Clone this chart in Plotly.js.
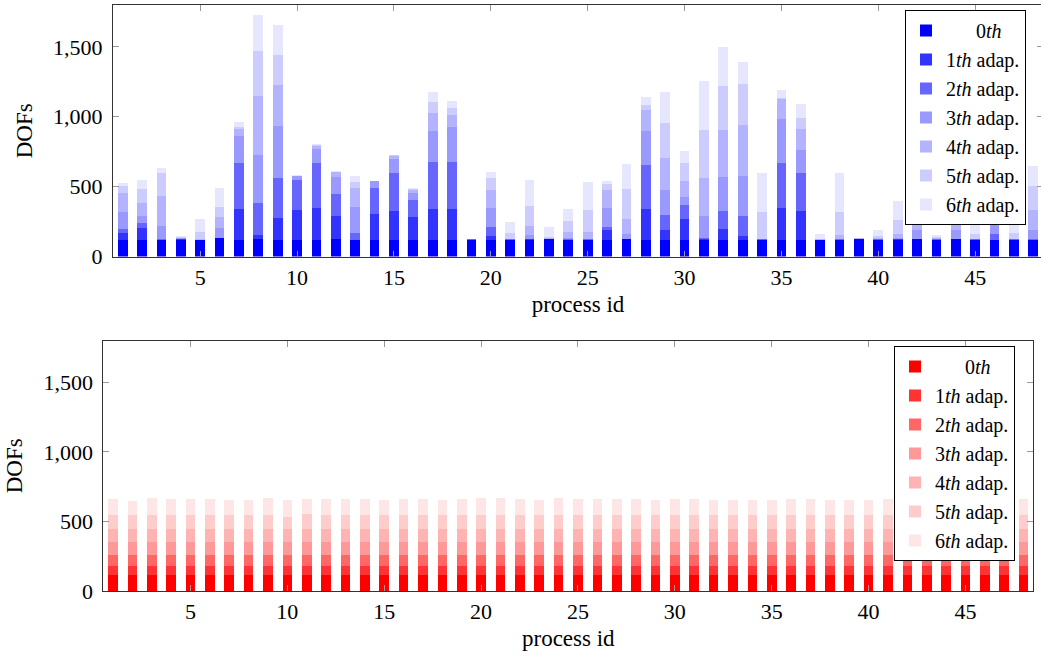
<!DOCTYPE html>
<html>
<head>
<meta charset="utf-8">
<script src="https://cdn.plot.ly/plotly-3.0.1.min.js"></script>
<style>
html, body { margin: 0; padding: 0; overflow: hidden; background: #fff; }
#chart { width: 1050px; height: 656px; }
</style>
</head>
<body>
<div id="chart"></div>
<script>
// process ids
const processIds = [1,2,3,4,5,6,7,8,9,10,11,12,13,14,15,16,17,18,19,20,21,22,23,24,25,26,27,28,29,30,31,32,33,34,35,36,37,38,39,40,41,42,43,44,45,46,47,48];

const legendNames = ["\u00a0\u00a0\u00a0\u00a0\u00a0\u00a00<i>th</i>", "1<i>th</i> adap.", "2<i>th</i> adap.", "3<i>th</i> adap.", "4<i>th</i> adap.", "5<i>th</i> adap.", "6<i>th</i> adap."];

const xTickVals = [5, 10, 15, 20, 25, 30, 35, 40, 45];
const yTickVals = [0, 500, 1000, 1500];
const yTickText = ["0", "500", "1,000", "1,500"];

// Top chart (blue): DOFs added per adaptation step, per process
const topL0 = [120,120,120,120,120,129,120,124,120,120,120,124,120,120,120,120,120,120,120,120,120,120,124,120,120,120,124,120,120,120,120,120,120,120,120,120,120,120,124,120,120,124,120,124,120,120,120,120];
const topL1 = [47,83,1,3,0,2,220,29,153,210,224,163,0,186,205,162,220,220,1,24,1,2,1,1,1,67,1,217,67,146,2,79,24,1,224,205,0,1,1,1,2,1,1,1,1,1,1,1];
const topL2 = [29,39,2,3,0,4,330,230,292,215,326,163,50,182,273,125,335,335,1,64,1,2,1,1,1,24,1,316,107,102,7,126,143,1,326,273,0,1,1,2,4,1,1,1,1,37,1,1];
const topL3 = [125,45,97,3,0,66,191,342,368,32,100,119,182,50,101,48,222,253,1,139,1,27,2,10,1,138,32,244,180,55,158,242,287,1,316,163,1,3,2,3,10,62,2,62,1,120,1,65];
const topL4 = [134,96,211,4,2,79,50,421,292,1,24,34,141,2,19,19,127,82,0,131,5,64,3,40,55,127,112,151,229,120,278,337,366,3,141,153,2,28,2,5,22,150,5,120,2,80,5,143];
const topL5 = [52,103,167,6,50,74,15,328,215,1,6,5,43,2,7,7,81,55,0,84,40,144,10,82,153,41,216,36,254,124,339,316,294,195,10,76,5,168,3,15,100,100,10,80,38,60,40,172];
const topL6 = [19,59,36,6,98,134,36,258,220,1,4,4,43,1,5,7,72,50,0,46,77,191,67,83,201,21,177,55,220,87,352,278,156,279,54,101,35,279,3,41,142,62,14,62,180,40,160,146];

// Bottom chart (red): DOFs added per adaptation step, per process
const botL0 = [116,116,116,116,116,116,116,116,116,116,116,116,116,116,116,116,116,116,116,116,116,116,116,116,116,116,116,116,116,116,116,116,116,116,116,116,116,116,116,116,116,116,116,116,116,116,116,116];
const botL1 = [67,67,67,67,67,67,67,67,67,67,67,67,67,67,67,67,67,67,67,67,67,67,67,67,67,67,67,67,67,67,67,67,67,67,67,67,67,67,67,67,67,67,67,67,67,67,67,67];
const botL2 = [77,77,77,77,77,77,77,77,77,77,77,77,77,77,77,77,77,77,77,77,77,77,77,77,77,77,77,77,77,77,77,77,77,77,77,77,77,77,77,77,77,77,77,77,77,77,77,77];
const botL3 = [89,89,89,89,89,89,89,89,89,89,89,89,89,89,89,89,89,89,89,89,89,89,89,89,89,89,89,89,89,89,89,89,89,89,89,89,89,89,89,89,89,89,89,89,89,89,89,89];
const botL4 = [96,96,96,96,96,96,96,96,96,96,96,96,96,96,96,96,96,96,96,96,96,96,96,96,96,96,96,96,96,96,96,96,96,96,96,96,96,96,96,96,96,96,96,96,96,96,96,96];
const botL5 = [101,101,101,101,101,101,101,101,101,89,110,101,101,101,101,101,101,101,101,101,101,101,101,101,101,101,101,101,101,101,101,101,101,101,101,101,101,101,101,101,101,101,101,101,101,101,101,101];
const botL6 = [115,103,120,117,115,115,105,110,122,122,108,113,113,117,108,113,115,105,117,120,120,113,108,120,113,117,113,117,110,113,113,110,110,110,110,113,113,110,110,110,113,110,115,110,113,117,110,115];

const blueColors = ["#0000ff", "#3333ff", "#6666ff", "#9999ff", "#b3b3ff", "#ccccff", "#e6e6ff"];
const redColors  = ["#ff0000", "#ff3333", "#ff6666", "#ff9999", "#ffb3b3", "#ffcccc", "#ffe6e6"];

const topLayers = [topL0, topL1, topL2, topL3, topL4, topL5, topL6];
const botLayers = [botL0, botL1, botL2, botL3, botL4, botL5, botL6];

const FONT = "Liberation Serif, Times New Roman, serif";
const traces = [];
topLayers.forEach((vals, i) => {
  traces.push({
    type: "bar", x: processIds, y: vals, name: legendNames[i],
    marker: { color: blueColors[i], line: { width: 0 } },
    width: 0.5, xaxis: "x", yaxis: "y", legend: "legend"
  });
});
botLayers.forEach((vals, i) => {
  traces.push({
    type: "bar", x: processIds, y: vals, name: legendNames[i],
    marker: { color: redColors[i], line: { width: 0 } },
    width: 0.5, xaxis: "x2", yaxis: "y2", legend: "legend2"
  });
});

const W = 1050, H = 656;
function xAxis(domain, anchor) {
  return {
    domain: domain, anchor: anchor, range: [0.5, 48.5],
    tickmode: "array", tickvals: xTickVals, ticktext: xTickVals.map(String),
    ticks: "inside", ticklen: 6, tickcolor: "#999", tickwidth: 1,
    showline: true, linecolor: "#333", linewidth: 1, mirror: "ticks",
    showgrid: false, zeroline: false,
    tickfont: { family: FONT, size: 22, color: "#000" },
    ticklabelstandoff: 1,
    title: { text: "process id", font: { family: FONT, size: 23, color: "#000" }, standoff: 6 }
  };
}
function yAxis(domain, anchor) {
  return {
    domain: domain, anchor: anchor, range: [0, 1800],
    tickmode: "array", tickvals: yTickVals, ticktext: yTickText,
    ticks: "inside", ticklen: 6, tickcolor: "#999", tickwidth: 1,
    showline: true, linecolor: "#333", linewidth: 1, mirror: "ticks",
    showgrid: false, zeroline: false,
    tickfont: { family: FONT, size: 22, color: "#000" },
    ticklabelstandoff: 5,
    title: { text: "DOFs", font: { family: FONT, size: 23, color: "#000" }, standoff: 14 }
  };
}

function legendCfg(xRight, yTop) {
  return {
    x: xRight / W, xanchor: "right", y: 1 - yTop / H, yanchor: "top",
    bgcolor: "#fff", bordercolor: "#000", borderwidth: 1,
    font: { family: FONT, size: 20, color: "#000" },
    tracegroupgap: 0, itemwidth: 30, traceorder: "normal"
  };
}

const layout = {
  width: W, height: H,
  margin: { l: 0, r: 0, t: 0, b: 0 },
  paper_bgcolor: "#fff", plot_bgcolor: "#fff",
  barmode: "stack", bargap: 0,
  font: { family: FONT, size: 22, color: "#000" },
  xaxis: xAxis([113 / W, 1043 / W], "y"),
  yaxis: yAxis([1 - 256.5 / H, 1 - 5 / H], "x"),
  xaxis2: xAxis([103.3 / W, 1033.3 / W], "y2"),
  yaxis2: yAxis([1 - 591 / H, 1 - 340.7 / H], "x2"),
  legend: legendCfg(1026, 10),
  legend2: legendCfg(1015, 346),
  showlegend: true
};

Plotly.newPlot("chart", traces, layout, { staticPlot: true, displayModeBar: false });
</script>
</body>
</html>
